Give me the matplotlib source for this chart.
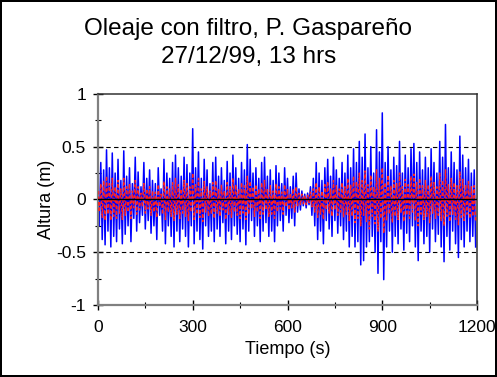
import numpy as np
import matplotlib
matplotlib.use("Agg")
import matplotlib.pyplot as plt
from matplotlib.ticker import MultipleLocator

plt.rcParams['font.family'] = ['Liberation Sans', 'DejaVu Sans']

title_lines = ["Oleaje con filtro, P. Gaspareño", "27/12/99, 13 hrs"]
x_label = "Tiempo (s)"
y_label = "Altura (m)"
x_ticks = [0, 300, 600, 900, 1200]
y_ticks = [-1, -0.5, 0, 0.5, 1]
y_tick_labels = ["-1", "-0.5", "0", "0.5", "1"]

# sampling step between successive crests (s)
cycle_step = 9.09

# raw wave record (blue): crest and trough heights per wave (m)
blue_peaks = [
    0.12, 0.35, 0.28, 0.47, 0.30, 0.44, 0.25, 0.38, 0.18, 0.46,
    0.22, 0.30, 0.15, 0.40, 0.26, 0.12, 0.35, 0.20, 0.28, 0.18,
    0.15, 0.30, 0.10, 0.38, 0.25, 0.20, 0.35, 0.42, 0.30, 0.22,
    0.40, 0.33, 0.25, 0.67, 0.30, 0.45, 0.20, 0.38, 0.28, 0.15,
    0.35, 0.40, 0.22, 0.30, 0.18, 0.36, 0.25, 0.42, 0.30, 0.20,
    0.35, 0.28, 0.52, 0.38, 0.25, 0.30, 0.20, 0.35, 0.40, 0.22,
    0.28, 0.18, 0.32, 0.25, 0.15, 0.30, 0.20, 0.12, 0.22, 0.25,
    0.10, 0.08, 0.05, 0.06, 0.12, 0.20, 0.35, 0.25, 0.18, 0.30,
    0.38, 0.22, 0.40, 0.28, 0.20, 0.35, 0.25, 0.42, 0.30, 0.48,
    0.35, 0.55, 0.40, 0.62, 0.30, 0.50, 0.25, 0.66, 0.45, 0.82,
    0.35, 0.50, 0.28, 0.40, 0.32, 0.55, 0.25, 0.42, 0.30, 0.48,
    0.53, 0.35, 0.45, 0.28, 0.40, 0.30, 0.48, 0.35, 0.25, 0.55,
    0.40, 0.71, 0.30, 0.45, 0.35, 0.28, 0.60, 0.42, 0.30, 0.38, 0.25, 0.28,
]
blue_troughs = [
    -0.25, -0.38, -0.43, -0.30, -0.45, -0.35, -0.40, -0.28, -0.42, -0.33,
    -0.25, -0.40, -0.18, -0.30, -0.22, -0.15, -0.28, -0.20, -0.32, -0.25,
    -0.38, -0.15, -0.30, -0.42, -0.25, -0.35, -0.45, -0.30, -0.40, -0.28,
    -0.35, -0.45, -0.25, -0.42, -0.30, -0.38, -0.47, -0.25, -0.35, -0.30,
    -0.40, -0.28, -0.35, -0.22, -0.42, -0.30, -0.38, -0.25, -0.33, -0.40,
    -0.28, -0.43, -0.30, -0.20, -0.35, -0.25, -0.40, -0.30, -0.22, -0.35,
    -0.30, -0.40, -0.25, -0.20, -0.30, -0.15, -0.22, -0.18, -0.25, -0.12,
    -0.10, -0.06, -0.08, -0.05, -0.15, -0.25, -0.38, -0.30, -0.42, -0.20,
    -0.28, -0.35, -0.20, -0.32, -0.25, -0.38, -0.30, -0.45, -0.35, -0.45,
    -0.40, -0.62, -0.58, -0.45, -0.40, -0.35, -0.50, -0.70, -0.40, -0.76,
    -0.45, -0.30, -0.50, -0.35, -0.42, -0.28, -0.48, -0.32, -0.40, -0.25,
    -0.45, -0.58, -0.30, -0.42, -0.35, -0.50, -0.28, -0.40, -0.33, -0.45,
    -0.59, -0.35, -0.48, -0.30, -0.42, -0.55, -0.38, -0.45, -0.30, -0.40, -0.35, -0.45,
]

# filtered record (red dashed)
red_peaks = [
    0.08, 0.15, 0.18, 0.22, 0.15, 0.20, 0.12, 0.18, 0.10, 0.20,
    0.12, 0.15, 0.08, 0.18, 0.12, 0.06, 0.15, 0.10, 0.12, 0.08,
    0.07, 0.14, 0.05, 0.17, 0.12, 0.10, 0.16, 0.20, 0.14, 0.10,
    0.18, 0.15, 0.12, 0.25, 0.14, 0.20, 0.10, 0.17, 0.12, 0.08,
    0.16, 0.18, 0.10, 0.14, 0.08, 0.16, 0.12, 0.20, 0.14, 0.10,
    0.16, 0.13, 0.22, 0.17, 0.12, 0.14, 0.10, 0.16, 0.18, 0.10,
    0.13, 0.08, 0.15, 0.12, 0.07, 0.14, 0.10, 0.06, 0.10, 0.12,
    0.06, 0.05, 0.04, 0.04, 0.07, 0.10, 0.16, 0.12, 0.08, 0.14,
    0.17, 0.10, 0.18, 0.13, 0.10, 0.16, 0.12, 0.20, 0.14, 0.22,
    0.17, 0.25, 0.18, 0.27, 0.14, 0.23, 0.12, 0.28, 0.20, 0.30,
    0.16, 0.23, 0.13, 0.18, 0.15, 0.25, 0.12, 0.19, 0.14, 0.22,
    0.24, 0.16, 0.20, 0.13, 0.18, 0.14, 0.22, 0.16, 0.12, 0.25,
    0.18, 0.28, 0.14, 0.20, 0.16, 0.13, 0.26, 0.19, 0.14, 0.17, 0.12, 0.13,
]
red_troughs = [
    -0.12, -0.17, -0.20, -0.14, -0.20, -0.16, -0.18, -0.13, -0.19, -0.15,
    -0.12, -0.18, -0.08, -0.14, -0.10, -0.07, -0.13, -0.09, -0.15, -0.12,
    -0.17, -0.07, -0.14, -0.19, -0.12, -0.16, -0.20, -0.14, -0.18, -0.13,
    -0.16, -0.20, -0.12, -0.19, -0.14, -0.17, -0.21, -0.12, -0.16, -0.14,
    -0.18, -0.13, -0.16, -0.10, -0.19, -0.14, -0.17, -0.12, -0.15, -0.18,
    -0.13, -0.19, -0.14, -0.09, -0.16, -0.12, -0.18, -0.14, -0.10, -0.16,
    -0.14, -0.18, -0.12, -0.09, -0.14, -0.07, -0.10, -0.08, -0.12, -0.06,
    -0.05, -0.04, -0.05, -0.03, -0.07, -0.12, -0.17, -0.14, -0.19, -0.10,
    -0.13, -0.16, -0.10, -0.15, -0.12, -0.17, -0.14, -0.20, -0.16, -0.22,
    -0.18, -0.25, -0.15, -0.21, -0.28, -0.16, -0.23, -0.30, -0.18, -0.32,
    -0.20, -0.14, -0.22, -0.16, -0.19, -0.13, -0.21, -0.15, -0.18, -0.12,
    -0.20, -0.25, -0.14, -0.19, -0.16, -0.22, -0.13, -0.18, -0.15, -0.20,
    -0.25, -0.16, -0.21, -0.14, -0.19, -0.24, -0.17, -0.20, -0.14, -0.18, -0.16, -0.20,
]

def interleave(peaks, troughs):
    out = np.empty(len(peaks) + len(troughs))
    out[0::2] = peaks
    out[1::2] = troughs
    return out

blue = interleave(blue_peaks, blue_troughs)
red = interleave(red_peaks, red_troughs)
t = np.arange(len(blue)) * (cycle_step / 2)

fig = plt.figure(figsize=(4.97, 3.77), dpi=100)
fig.patch.set_facecolor('white')
fig.patch.set_edgecolor('black')
fig.patch.set_linewidth(1.5)
ax = fig.add_axes([0.197, 0.191, 0.763, 0.560])

ax.plot(t, blue, color='#0000FF', lw=1.1, zorder=2)
ax.plot(t, red, color='#FF2020', lw=1.0, dashes=(2.5, 1.5), zorder=3)
ax.axhline(0, color='black', lw=1.0, zorder=4)
for yv in (0.5, -0.5):
    ax.axhline(yv, color='black', lw=0.8, dashes=(4, 3), zorder=1)

ax.set_xlim(0, 1200)
ax.set_ylim(-1, 1)
ax.set_xticks(x_ticks)
ax.set_yticks(y_ticks)
ax.set_yticklabels(y_tick_labels)
ax.xaxis.set_minor_locator(MultipleLocator(150))
ax.yaxis.set_minor_locator(MultipleLocator(0.25))
ax.tick_params(which='major', direction='inout', length=7, width=1, labelsize=12.5, colors='black')
ax.tick_params(axis='x', which='major', pad=7)
ax.tick_params(axis='y', which='major', pad=5)
ax.tick_params(which='minor', direction='inout', length=5, width=0.8)
for side in ('left', 'bottom'):
    ax.spines[side].set_color('#808080')
    ax.spines[side].set_linewidth(1.6)
for side in ('top', 'right'):
    ax.spines[side].set_color('#333333')
    ax.spines[side].set_linewidth(1.1)

ax.set_xlabel(x_label, fontsize=13)
ax.set_ylabel(y_label, fontsize=13)
ax.xaxis.set_label_coords(0.5, -0.172)
ax.yaxis.set_label_coords(-0.113, 0.5)
fig.text(0.5, 1 - 35 / 377, title_lines[0], ha='center', va='baseline', fontsize=17.5)
fig.text(0.5, 1 - 63 / 377, title_lines[1], ha='center', va='baseline', fontsize=17.5)

fig.savefig("out.png", dpi=100)
